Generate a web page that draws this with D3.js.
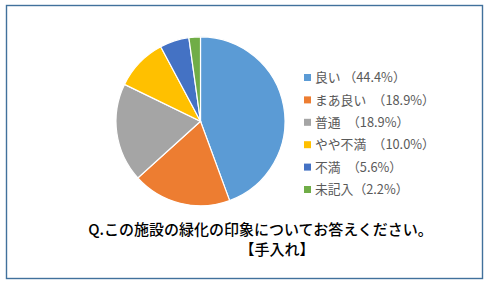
<!DOCTYPE html>
<html>
<head>
<meta charset="utf-8">
<script src="https://cdn.jsdelivr.net/npm/d3@7"></script>
<style>
  body { margin: 0; background: white; }
  svg { display: block; }
</style>
</head>
<body>
<main></main>
<script>
const categories = ['良い', 'まあ良い', '普通', 'やや不満', '不満', '未記入'];
const values = [44.4, 18.9, 18.9, 10.0, 5.6, 2.2];
const legendLabels = ['良い （44.4%）', 'まあ良い　（18.9%）', '普通　（18.9%）', 'やや不満　（10.0%）', '不満　（5.6%）', '未記入（2.2%）'];
const colors = ['#5b9bd5', '#ed7d31', '#a5a5a5', '#ffc000', '#4472c4', '#70ad47'];
const titleLines = ['Q.この施設の緑化の印象についてお答えください。', '【手入れ】'];

const width = 488;
const height = 285;
const cx = 200.5;
const cy = 121.3;
const radius = 84.5;
const font = '"Noto Sans CJK JP", "Noto Sans", sans-serif';

const dataset = categories.map((c, i) => ({ name: c, value: values[i], label: legendLabels[i] }));

const svg = d3.select('main')
  .append('svg')
  .attr('width', width)
  .attr('height', height)

// Border
svg.append('rect')
  .attr('x', 6.5)
  .attr('y', 5.5)
  .attr('width', 476)
  .attr('height', 273)
  .style('fill', 'white')
  .style('stroke', '#41719c')
  .style('stroke-width', 1.4)

const color = d3.scaleOrdinal()
  .domain(categories)
  .range(colors)

const pie = d3.pie()
  .value(d => d.value)
  .sort(null)

const arc = d3.arc()
  .innerRadius(0)
  .outerRadius(radius)

// Slices
svg.append('g')
  .attr('transform', `translate(${cx}, ${cy})`)
  .selectAll('path')
  .data(pie(dataset))
  .enter()
  .append('path')
  .attr('d', arc)
  .style('fill', d => color(d.data.name))
  .style('stroke', 'white')
  .style('stroke-width', 1.2)

// Legend
const legendY = d3.scalePoint()
  .domain(categories)
  .range([77.5, 189.5])

const legend = svg.append('g')
  .selectAll('g')
  .data(dataset)
  .enter()
  .append('g')
  .attr('transform', d => `translate(304, ${legendY(d.name)})`)

legend.append('rect')
  .attr('x', 0)
  .attr('y', -3.5)
  .attr('width', 7)
  .attr('height', 7)
  .style('fill', d => color(d.name))

legend.append('text')
  .text(d => d.label)
  .attr('x', 11)
  .attr('dy', '0.36em')
  .style('font-family', font)
  .style('font-size', '12.8px')
  .style('fill', '#595959')

// Title
svg.append('text')
  .text(titleLines[0])
  .attr('x', 260.5)
  .attr('y', 230)
  .attr('dy', '0.36em')
  .attr('text-anchor', 'middle')
  .style('font-family', font)
  .style('font-size', '15px')
  .style('font-weight', 500)
  .style('fill', '#000')

svg.append('text')
  .text(titleLines[1])
  .attr('x', 277)
  .attr('y', 249.5)
  .attr('dy', '0.36em')
  .attr('text-anchor', 'middle')
  .style('font-family', font)
  .style('font-size', '15px')
  .style('font-weight', 500)
  .style('fill', '#000')
</script>
</body>
</html>
